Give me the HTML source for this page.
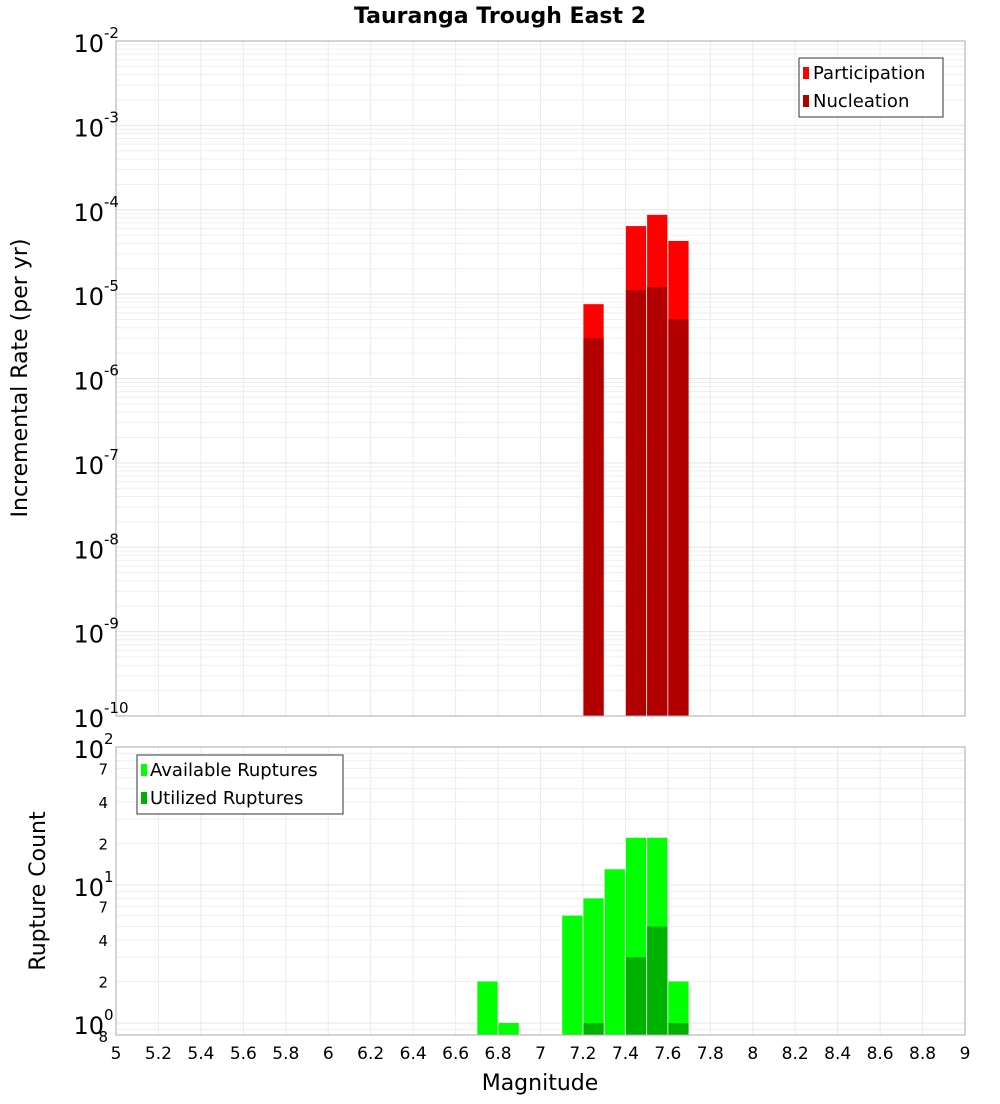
<!DOCTYPE html>
<html><head><meta charset="utf-8"><style>
body{margin:0;background:#fff;font-family:"DejaVu Sans","Liberation Sans",sans-serif;}
svg text{font-family:"DejaVu Sans","Liberation Sans",sans-serif;}
</style></head><body>
<svg id="c" width="1000" height="1100" xmlns="http://www.w3.org/2000/svg"></svg>
<script>
const partMags=[7.25,7.45,7.55,7.65];
const partVals=[7.6e-6,6.4e-5,8.7e-5,4.27e-5];
const nuclMags=[7.25,7.45,7.55,7.65];
const nuclVals=[3.0e-6,1.12e-5,1.21e-5,5.07e-6];
const availMags=[6.75,6.85,7.15,7.25,7.35,7.45,7.55,7.65];
const availVals=[2,1,6,8,13,22,22,2];
const utilMags=[7.25,7.45,7.55,7.65];
const utilVals=[1,3,5,1];
const xTicks=[5,5.2,5.4,5.6,5.8,6,6.2,6.4,6.6,6.8,7,7.2,7.4,7.6,7.8,8,8.2,8.4,8.6,8.8,9];
const topExps=[-2,-3,-4,-5,-6,-7,-8,-9,-10];
const botMinor=[2,4,7];

const svg=document.getElementById('c');
const NS='http://www.w3.org/2000/svg';
function el(tag,attrs,parent,txt){const e=document.createElementNS(NS,tag);for(const k in attrs)e.setAttribute(k,attrs[k]);if(txt!==undefined)e.textContent=txt;(parent||svg).appendChild(e);return e;}
const X0=116,X1=965;
const xs=m=>X0+(m-5)/4*(X1-X0);
const T0=41,T1=716;
const yTop=v=>T0+(-2-Math.log10(v))/8*(T1-T0);
const B0=747,B1=1035,BD=138;
const yBot=v=>Math.min(B1,B0+(2-Math.log10(v))*BD);

// title
let t=el('text',{x:500,y:23,'text-anchor':'middle','font-size':22,'font-weight':'bold'},svg,'Tauranga Trough East 2');


function panel(y0,y1,name){
  const g=el('g',{});
  // x grid
  xTicks.forEach(m=>{el('line',{x1:xs(m),x2:xs(m),y1:y0,y2:y1,stroke:'#ebebeb','stroke-width':1},g);});
  return g;
}
// TOP PANEL
const gt=panel(T0,T1,'top-plot');
for(let e=-10;e<-2;e++){for(let k=1;k<10;k++){const y=yTop(k*Math.pow(10,e));el('line',{x1:X0,x2:X1,y1:y,y2:y,stroke:k==1?'#e4e4e4':'#efefef','stroke-width':1},gt);}}
const bw=(X1-X0)/40;
partMags.forEach((m,i)=>{const r=el('rect',{x:xs(m)-bw/2+0.5,y:yTop(partVals[i]),width:bw-1,height:T1-yTop(partVals[i]),fill:'#ff0000'},gt);});
nuclMags.forEach((m,i)=>{const r=el('rect',{x:xs(m)-bw/2+0.5,y:yTop(nuclVals[i]),width:bw-1,height:T1-yTop(nuclVals[i]),fill:'#b20000'},gt);});
el('rect',{x:X0,y:T0,width:X1-X0,height:T1-T0,fill:'none',stroke:'#aaa'},gt);
topExps.forEach(e=>{const y=yTop(Math.pow(10,e));const tt=el('text',{x:104,y:y+11,'text-anchor':'end','font-size':24},gt,'10');
  const s=el('text',{x:104,y:y-3,'font-size':15},gt,String(e));});
// top legend
const lg=el('g',{});
el('rect',{x:799,y:58,width:144,height:59,fill:'#fff',stroke:'#333'},lg);
el('rect',{x:803,y:67,width:6,height:12,fill:'#ff0000'},lg);
el('text',{x:813,y:79,'font-size':18},lg,'Participation');
el('rect',{x:803,y:95,width:6,height:12,fill:'#b20000'},lg);
el('text',{x:813,y:107,'font-size':18},lg,'Nucleation');
let yl=el('text',{x:27,y:378,'text-anchor':'middle','font-size':22,transform:'rotate(-90 27 378)'},svg,'Incremental Rate (per yr)');


// BOTTOM PANEL
const gb=panel(B0,B1,'bottom-plot');
for(let e=-1;e<2;e++){for(let k=1;k<10;k++){const v=k*Math.pow(10,e);const y=B0+(2-Math.log10(v))*BD;if(y>B1)continue;el('line',{x1:X0,x2:X1,y1:y,y2:y,stroke:k==1?'#e4e4e4':'#efefef','stroke-width':1},gb);}}
availMags.forEach((m,i)=>{const r=el('rect',{x:xs(m)-bw/2+0.5,y:yBot(availVals[i]),width:bw-1,height:B1-yBot(availVals[i]),fill:'#00ff00'},gb);});
utilMags.forEach((m,i)=>{const r=el('rect',{x:xs(m)-bw/2+0.5,y:yBot(utilVals[i]),width:bw-1,height:B1-yBot(utilVals[i]),fill:'#00b200'},gb);});
el('rect',{x:X0,y:B0,width:X1-X0,height:B1-B0,fill:'none',stroke:'#aaa'},gb);
[2,1,0].forEach(e=>{const y=B0+(2-e)*BD;el('text',{x:104,y:y+11,'text-anchor':'end','font-size':24},gb,'10');el('text',{x:104,y:y-3,'font-size':15},gb,String(e));});
[1,0].forEach(e=>{botMinor.forEach(k=>{const y=B0+(2-e-Math.log10(k))*BD;el('text',{x:108,y:y+6,'text-anchor':'end','font-size':15},gb,String(k));});});
el('text',{x:108,y:B1+7,'text-anchor':'end','font-size':15},gb,'8');
const lb=el('g',{});
el('rect',{x:137,y:755,width:206,height:59,fill:'#fff',stroke:'#333'},lb);
el('rect',{x:141,y:764,width:6,height:12,fill:'#00ff00'},lb);
el('text',{x:150,y:776,'font-size':18},lb,'Available Ruptures');
el('rect',{x:141,y:792,width:6,height:12,fill:'#00b200'},lb);
el('text',{x:150,y:804,'font-size':18},lb,'Utilized Ruptures');
let yl2=el('text',{x:45,y:891,'text-anchor':'middle','font-size':22,transform:'rotate(-90 45 891)'},svg,'Rupture Count');


// x axis ticks
const gx=el('g',{});
xTicks.forEach(m=>{el('text',{x:xs(m),y:1059,'text-anchor':'middle','font-size':17},gx,String(m));});
let xl=el('text',{x:540,y:1090,'text-anchor':'middle','font-size':22},svg,'Magnitude');

</script>
</body></html>
